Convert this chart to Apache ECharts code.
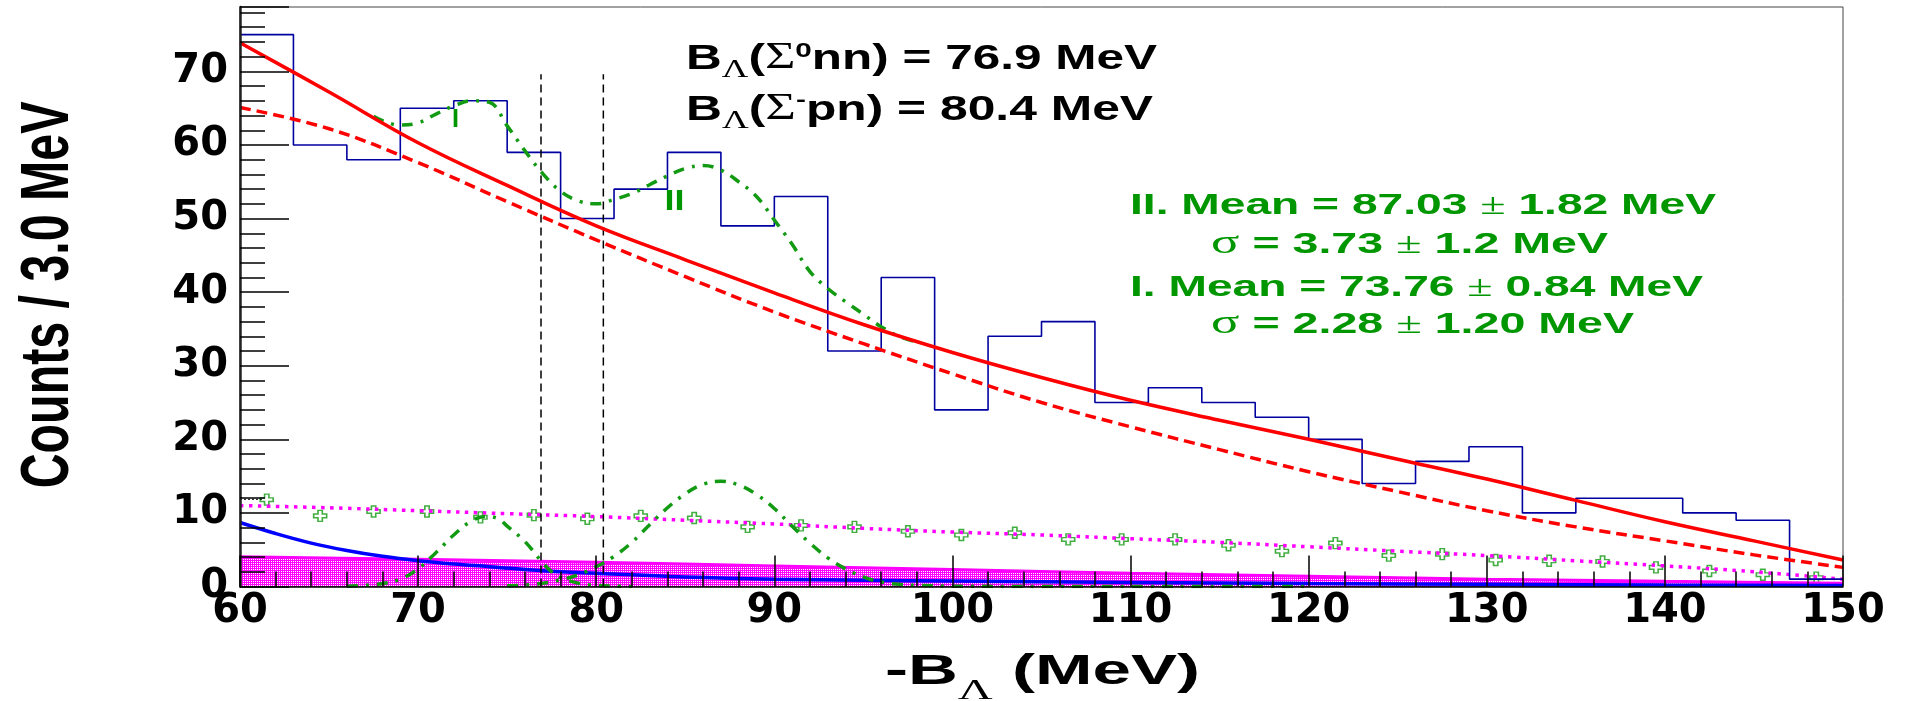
<!DOCTYPE html>
<html>
<head>
<meta charset="utf-8">
<script src="https://cdn.jsdelivr.net/npm/echarts@6/dist/echarts.min.js"></script>
<style>
html,body{margin:0;padding:0;background:#ffffff;}
#chart{width:1908px;height:701px;}
</style>
</head>
<body>
<div id="chart"></div>
<script>
// ---------------- DATA ----------------
const binLowEdges = [60,63,66,69,72,75,78,81,84,87,90,93,96,99,102,105,108,111,114,117,120,123,126,129,132,135,138,141,144,147];
const binWidth = 3;
const binCounts = [75,60,58,65,66,59,50,54,59,49,53,32,42,24,34,36,25,27,25,23,20,14,17,19,10,12,12,10,9,1];

const fitX = [60,65,70,75,80,85,90,95,100,105,110,115,120,125,130,135,140,145,150];
const totalFit = [73.9,67.2,60.3,54.5,49.0,44.4,39.9,35.6,31.8,28.4,25.3,22.6,20.0,17.3,14.6,11.7,8.8,6.2,3.6];
const bkgFit   = [65.1,62.2,57.6,52.3,47.1,42.1,37.3,33.0,28.9,25.0,21.7,18.6,15.6,12.9,10.3,8.1,6.2,4.3,2.6];
const dottedBkg = [11.0,10.7,10.3,9.9,9.5,9.0,8.5,7.9,7.4,7.0,6.5,6.0,5.4,4.8,4.2,3.5,2.8,2.0,1.0];

const blueX = [60,62,64,66,68,70,72,74,77,80,85,90,95,100,110,120,130,140,150];
const blueY = [8.7,7.2,5.9,4.9,4.1,3.5,3.05,2.7,2.15,1.8,1.3,1.0,0.85,0.75,0.55,0.4,0.3,0.2,0.15];

const bandX = [60,70,80,90,100,110,120,130,140,150];
const bandTop = [4.05,3.7,3.3,2.8,2.3,1.8,1.4,1.0,0.7,0.45];

const crossX = [61.5,64.5,67.5,70.5,73.5,76.5,79.5,82.5,85.5,88.5,91.5,94.5,97.5,100.5,103.5,106.5,109.5,112.5,115.5,118.5,121.5,124.5,127.5,130.5,133.5,136.5,139.5,142.5,145.5,148.5];
const crossY = [11.8,9.6,10.2,10.2,9.4,9.7,9.2,9.6,9.3,8.1,8.3,8.1,7.5,7.0,7.3,6.4,6.4,6.4,5.6,4.8,5.9,4.2,4.4,3.6,3.5,3.4,2.6,2.1,1.6,1.2];

const gaus1X = [66,67,68,69,70,71,72,73,73.8,74.5,75,76,77,77.5,78,79,80,81,82];
const gaus1Y = [0.05,0.15,0.4,1.0,2.4,4.6,7.0,8.9,9.5,9.2,8.2,6.1,3.2,2.0,1.2,0.45,0.15,0.05,0];

const gaus2X = [75,76,77,78,79,80,81,82,83,84,85,86,87,88,89,90,91,92,93,94,95,96,97,98,100,105,110,115,120];
const gaus2Y = [0.1,0.2,0.45,0.9,1.6,2.7,4.1,6.0,8.4,10.7,12.6,13.9,14.3,13.8,12.5,10.6,8.2,5.9,3.9,2.4,1.3,0.6,0.3,0.15,0.05,0,0,0,0];

const sumX = [67.5,68,69,70,71,72,73,74,75,76,77,78,79,80,81,82,83,84,85,86,87,88,89,90,91,92,93,94,95,96,97,98];
const sumY = [63.9,63.3,62.7,63.0,64.2,65.3,66.0,65.8,62.6,59.2,56.1,53.7,52.4,52.0,52.6,53.4,54.6,55.8,56.8,57.2,56.6,55.0,53.0,49.8,46.5,42.8,40.5,38.7,37.0,35.3,34.0,33.2];

const thresholdX = [76.9, 80.4];
const thresholdTop = 69.6;

const firstErrX = [60, 61.3];
const firstErrY = 11.85;

const xTicks = {min:60, max:150, interval:10};
const yTicks = {min:0, max:78.75, interval:10};

// ---------------- helpers ----------------
function pairs(xs, ys){ return xs.map(function(x,i){ return [x, ys[i]]; }); }
const histData = binLowEdges.map(function(x,i){ return [x, binCounts[i]]; })
  .concat([[binLowEdges[binLowEdges.length-1] + binWidth, binCounts[binCounts.length-1]]]);

const GREEN = '#129a12';
const GREEN_TXT = '#009600';
const SANS = '"Liberation Sans", Arial, Helvetica, sans-serif';
const SERIF = '"Liberation Serif", "DejaVu Serif", serif';

// band fill pattern
const pc = document.createElement('canvas');
pc.width = 4; pc.height = 4;
const pg = pc.getContext('2d');
pg.fillStyle = '#ff00ff'; pg.fillRect(0,0,4,4);
pg.fillStyle = '#ffffff';
pg.fillRect(1,1,1,1); pg.fillRect(3,3,1,1); pg.fillRect(1,3,1,1); pg.fillRect(3,1,1,1);

const mctx = document.createElement('canvas').getContext('2d');
function textBlock(pieces, left, baseline, targetW, color, rot){
  let x = 0; const children = [];
  pieces.forEach(function(p){
    const w = p.w || 'bold', f = p.f || SANS;
    mctx.font = w + ' ' + p.s + 'px ' + f;
    const wd = mctx.measureText(p.t).width;
    children.push({type:'text', x:x, y:(p.dy||0) - 0.31*p.s, silent:true,
      style:{text:p.t, fontSize:p.s, fontWeight:w, fontFamily:f, fill:color, verticalAlign:'middle', align:'left'}});
    x += wd;
  });
  return {type:'group', x:left, y:baseline, scaleX: targetW/x, scaleY:1, rotation: rot||0, z:100, silent:true, children:children};
}

const base = {type:'line', showSymbol:false, symbol:'none', silent:true, animation:false};

const series = [
  Object.assign({}, base, {name:'band', data:pairs(bandX, bandTop), smooth:0.3,
    lineStyle:{color:'#ff00ff', width:3}, areaStyle:{color:{image:pc, repeat:'repeat'}, opacity:1}}),
  Object.assign({}, base, {name:'blue', data:pairs(blueX, blueY), smooth:0.4,
    lineStyle:{color:'#0000ff', width:3.5}}),
  Object.assign({}, base, {name:'dotted', data:pairs(fitX, dottedBkg), smooth:0.4,
    lineStyle:{color:'#ff00ff', width:3.5, type:[3.5,5.5]}}),
  Object.assign({}, base, {name:'err', data:[[firstErrX[0], firstErrY],[firstErrX[1], firstErrY]],
    lineStyle:{color:'#000', width:1, type:[2,2]}}),
  {type:'scatter', name:'cross', data:pairs(crossX, crossY), silent:true, animation:false,
    symbol:'path://M4,0H8V4H12V8H8V12H4V8H0V4H4Z', symbolSize:[13,11],
    itemStyle:{color:'#ffffff', borderColor:GREEN, borderWidth:1.5}},
  Object.assign({}, base, {name:'g1', data:pairs(gaus1X, gaus1Y), smooth:0.4,
    lineStyle:{color:GREEN, width:3.5, type:[11,8,3,8]}}),
  Object.assign({}, base, {name:'g2', data:pairs(gaus2X, gaus2Y), smooth:0.4,
    lineStyle:{color:GREEN, width:3.5, type:[11,8,3,8]}}),
  Object.assign({}, base, {name:'hist', data:histData, step:'end',
    lineStyle:{color:'#0000a0', width:1.6}}),
];
thresholdX.forEach(function(x){
  series.push(Object.assign({}, base, {name:'thr'+x, data:[[x,0],[x,thresholdTop]],
    lineStyle:{color:'#000', width:1.5, type:[8,5]}}));
});
series.push(Object.assign({}, base, {name:'bkg', data:pairs(fitX, bkgFit), smooth:0.4,
  lineStyle:{color:'#ff0000', width:3.5, type:[11,6]}}));
series.push(Object.assign({}, base, {name:'sum', data:pairs(sumX, sumY), smooth:0.4,
  lineStyle:{color:GREEN, width:3.5, type:[11,8,3,8]}}));
series.push(Object.assign({}, base, {name:'total', data:pairs(fitX, totalFit), smooth:0.4,
  lineStyle:{color:'#ff0000', width:3.5}}));

const labelStyle = {fontFamily:'DejaVu Sans', fontWeight:'bold', fontSize:40, color:'#000'};

const graphics = [
  textBlock([{t:'B',s:35},{t:'Λ',s:26,w:'normal',f:SERIF,dy:8},{t:'(',s:35},{t:'Σ',s:37,w:'normal',f:SERIF},
             {t:'0',s:21,dy:-12},{t:'nn) = 76.9 MeV',s:35}], 686, 70, 471, '#000'),
  textBlock([{t:'B',s:35},{t:'Λ',s:26,w:'normal',f:SERIF,dy:8},{t:'(',s:35},{t:'Σ',s:37,w:'normal',f:SERIF},
             {t:'-',s:21,dy:-14},{t:'pn) = 80.4 MeV',s:35}], 686, 121, 467, '#000'),
  textBlock([{t:'II. Mean = 87.03 ',s:30},{t:'±',s:30,w:'normal',f:SERIF},{t:' 1.82 MeV',s:30}], 1130, 215.5, 586, GREEN_TXT),
  textBlock([{t:'σ',s:34,w:'normal',f:SERIF},{t:' = 3.73 ',s:30},{t:'±',s:30,w:'normal',f:SERIF},{t:' 1.2 MeV',s:30}], 1211, 254.5, 397, GREEN_TXT),
  textBlock([{t:'I. Mean = 73.76 ',s:30},{t:'±',s:30,w:'normal',f:SERIF},{t:' 0.84 MeV',s:30}], 1130, 297, 573, GREEN_TXT),
  textBlock([{t:'σ',s:34,w:'normal',f:SERIF},{t:' = 2.28 ',s:30},{t:'±',s:30,w:'normal',f:SERIF},{t:' 1.20 MeV',s:30}], 1211, 334.5, 423, GREEN_TXT),
  textBlock([{t:'-B',s:43},{t:'Λ',s:30,w:'normal',f:SERIF,dy:15},{t:' (MeV)',s:43}], 885, 685, 315, '#000'),
  textBlock([{t:'Counts / 3.0 MeV',s:69}], 70.7, 488.3, 386.7, '#000', Math.PI/2),
  textBlock([{t:'I',s:25}], 452, 128, 7, GREEN_TXT),
  textBlock([{t:'II',s:30}], 664.6, 210.6, 20, GREEN_TXT)
];

const chart = echarts.init(document.getElementById('chart'), null, {renderer:'canvas'});
chart.setOption({
  animation:false,
  backgroundColor:'#ffffff',
  grid:{left:240, top:7, width:1603, height:579.5, show:true, borderColor:'#444', borderWidth:1, backgroundColor:'transparent', containLabel:false},
  xAxis:{type:'value', min:xTicks.min, max:xTicks.max, interval:xTicks.interval, z:10,
    axisLine:{show:true, onZero:false, lineStyle:{color:'#000', width:1.5}},
    axisTick:{show:true, inside:true, length:31, lineStyle:{color:'#000', width:1.5}},
    minorTick:{show:true, splitNumber:5, length:15, lineStyle:{color:'#000', width:1.5}},
    splitLine:{show:false},
    axisLabel:Object.assign({margin:5, showMinLabel:true, showMaxLabel:true}, labelStyle)},
  yAxis:{type:'value', min:yTicks.min, max:yTicks.max, interval:yTicks.interval, z:10,
    axisLine:{show:true, onZero:false, lineStyle:{color:'#222', width:2.5}},
    axisTick:{show:true, inside:true, length:49, lineStyle:{color:'#000', width:1.5}},
    minorTick:{show:true, splitNumber:5, length:25, lineStyle:{color:'#000', width:1.5}},
    splitLine:{show:false},
    axisLabel:Object.assign({margin:12, formatter:function(v){ return Math.abs(v % 10) < 1e-9 ? String(v) : ''; }}, labelStyle)},
  series:series,
  graphic:graphics
});
</script>
</body>
</html>
